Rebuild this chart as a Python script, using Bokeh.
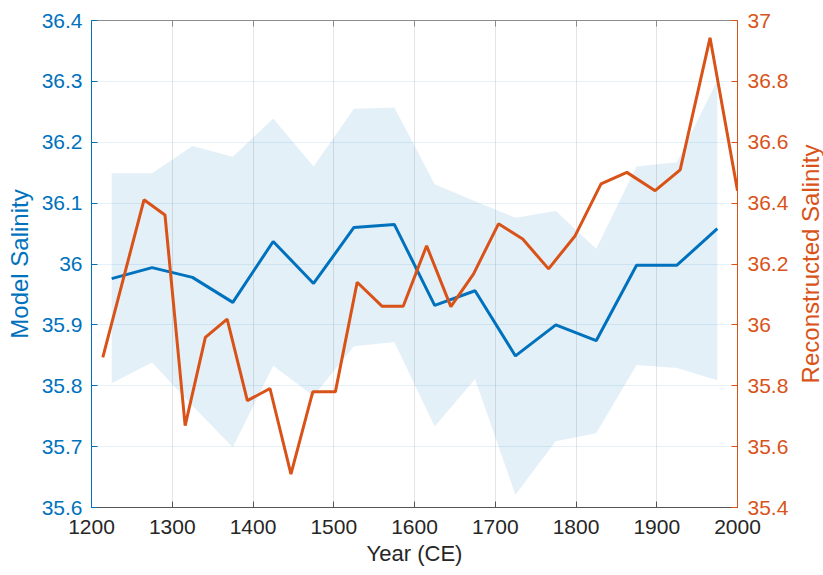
import math
from bokeh.plotting import figure
from bokeh.models import (Range1d, LinearAxis, FixedTicker, CustomJSTickFormatter, Label)
from bokeh.embed import file_html
from bokeh.resources import INLINE

# Model salinity: 50-year bin centres, ensemble mean and spread
model_years = [1225, 1275, 1325, 1375, 1425, 1475, 1525, 1575,
               1625, 1675, 1725, 1775, 1825, 1875, 1925, 1975]
model_mean = [35.976, 35.994, 35.978, 35.937, 36.037, 35.968, 36.060, 36.065,
              35.932, 35.956, 35.849, 35.900, 35.874, 35.998, 35.998, 36.058]
model_upper = [36.149, 36.149, 36.194, 36.176, 36.239, 36.160, 36.255, 36.257,
               36.131, 36.103, 36.076, 36.087, 36.025, 36.160, 36.167, 36.302]
model_lower = [35.804, 35.838, 35.767, 35.699, 35.833, 35.783, 35.865, 35.872,
               35.733, 35.811, 35.621, 35.709, 35.722, 35.834, 35.829, 35.809]

# Reconstructed salinity (right axis)
recon_years = [1214, 1265, 1291, 1316, 1341, 1368, 1393, 1421, 1447, 1474,
               1502, 1529, 1560, 1586, 1615, 1645, 1673, 1704, 1734, 1766,
               1799, 1831, 1863, 1898, 1929, 1966, 2000]
recon_values = [35.893, 36.411, 36.361, 35.669, 35.959, 36.019, 35.751, 35.791,
                35.510, 35.780, 35.780, 36.140, 36.061, 36.061, 36.260, 36.060,
                36.167, 36.332, 36.282, 36.184, 36.293, 36.463, 36.501, 36.441,
                36.509, 36.943, 36.441]

x_ticks = [1200, 1300, 1400, 1500, 1600, 1700, 1800, 1900, 2000]
left_ticks = [35.6, 35.7, 35.8, 35.9, 36.0, 36.1, 36.2, 36.3, 36.4]
right_ticks = [35.4, 35.6, 35.8, 36.0, 36.2, 36.4, 36.6, 36.8, 37.0]

BLUE = "#0072BD"
ORANGE = "#D95319"
DARK = "#262626"
FONT = "Liberation Sans"
TICK_SIZE = "21px"

p = figure(width=823, height=575, output_backend="svg", toolbar_location=None,
           x_range=Range1d(1200, 2000), y_range=Range1d(35.6, 36.4),
           min_border_left=91, min_border_right=86,
           min_border_top=20, min_border_bottom=68,
           x_axis_location=None, y_axis_location=None)
p.extra_y_ranges = {"recon": Range1d(35.4, 37.0)}
p.outline_line_color = "#8c8c8c"
p.outline_line_width = 1
p.background_fill_color = "white"
p.border_fill_color = "white"

fmt = CustomJSTickFormatter(code="return String(Number(tick.toFixed(2)));")


def style_axis(ax, color, label_color, ticks):
    ax.ticker = FixedTicker(ticks=ticks)
    ax.formatter = fmt
    ax.axis_line_color = color
    ax.axis_line_width = 1
    ax.major_tick_line_color = color
    ax.major_tick_in = 6
    ax.major_tick_out = 0
    ax.minor_tick_line_color = None
    ax.major_label_text_color = label_color
    ax.major_label_text_font = FONT
    ax.major_label_text_font_size = TICK_SIZE
    ax.major_label_standoff = 9
    ax.axis_label_text_font = FONT
    ax.axis_label_text_font_style = "normal"
    ax.axis_label_text_color = label_color


bottom = LinearAxis(axis_label="Year (CE)")
style_axis(bottom, "#555555", DARK, x_ticks)
bottom.major_label_standoff = 12
bottom.axis_label_text_font_size = "22px"
bottom.axis_label_standoff = 4
p.add_layout(bottom, "below")

# box top with inward ticks only
top = LinearAxis()
style_axis(top, "#8c8c8c", DARK, x_ticks)
top.formatter = CustomJSTickFormatter(code="return '';")
top.major_label_standoff = 0
p.add_layout(top, "above")

left = LinearAxis(axis_label="Model Salinity")
style_axis(left, BLUE, BLUE, left_ticks)
left.axis_label_text_font_size = "24px"
left.axis_label_standoff = 6
p.add_layout(left, "left")

right = LinearAxis(y_range_name="recon")
style_axis(right, ORANGE, ORANGE, right_ticks)
right.major_label_standoff = 10
p.add_layout(right, "right")

# right-hand axis title, reading bottom to top like the left one
p.add_layout(Label(x=2000, y=36.0, x_offset=73, text="Reconstructed Salinity",
                   angle=math.pi / 2, text_align="center", text_baseline="middle",
                   text_font=FONT, text_font_size="24px", text_color=ORANGE),
             "right")

# grid: grey verticals, blue-tinted horizontals on the model axis ticks
p.xgrid.ticker = FixedTicker(ticks=x_ticks)
p.ygrid.ticker = FixedTicker(ticks=left_ticks)
p.xgrid.grid_line_color = DARK
p.xgrid.grid_line_alpha = 0.12
p.ygrid.grid_line_color = BLUE
p.ygrid.grid_line_alpha = 0.10

# model spread band, model mean, reconstruction
p.varea(x=model_years, y1=model_lower, y2=model_upper,
        fill_color=BLUE, fill_alpha=0.11)
p.line(model_years, model_mean, line_color=BLUE, line_width=3)
p.line(recon_years, recon_values, line_color=ORANGE, line_width=3,
       y_range_name="recon")

open("out.html", "w").write(file_html(p, INLINE))
